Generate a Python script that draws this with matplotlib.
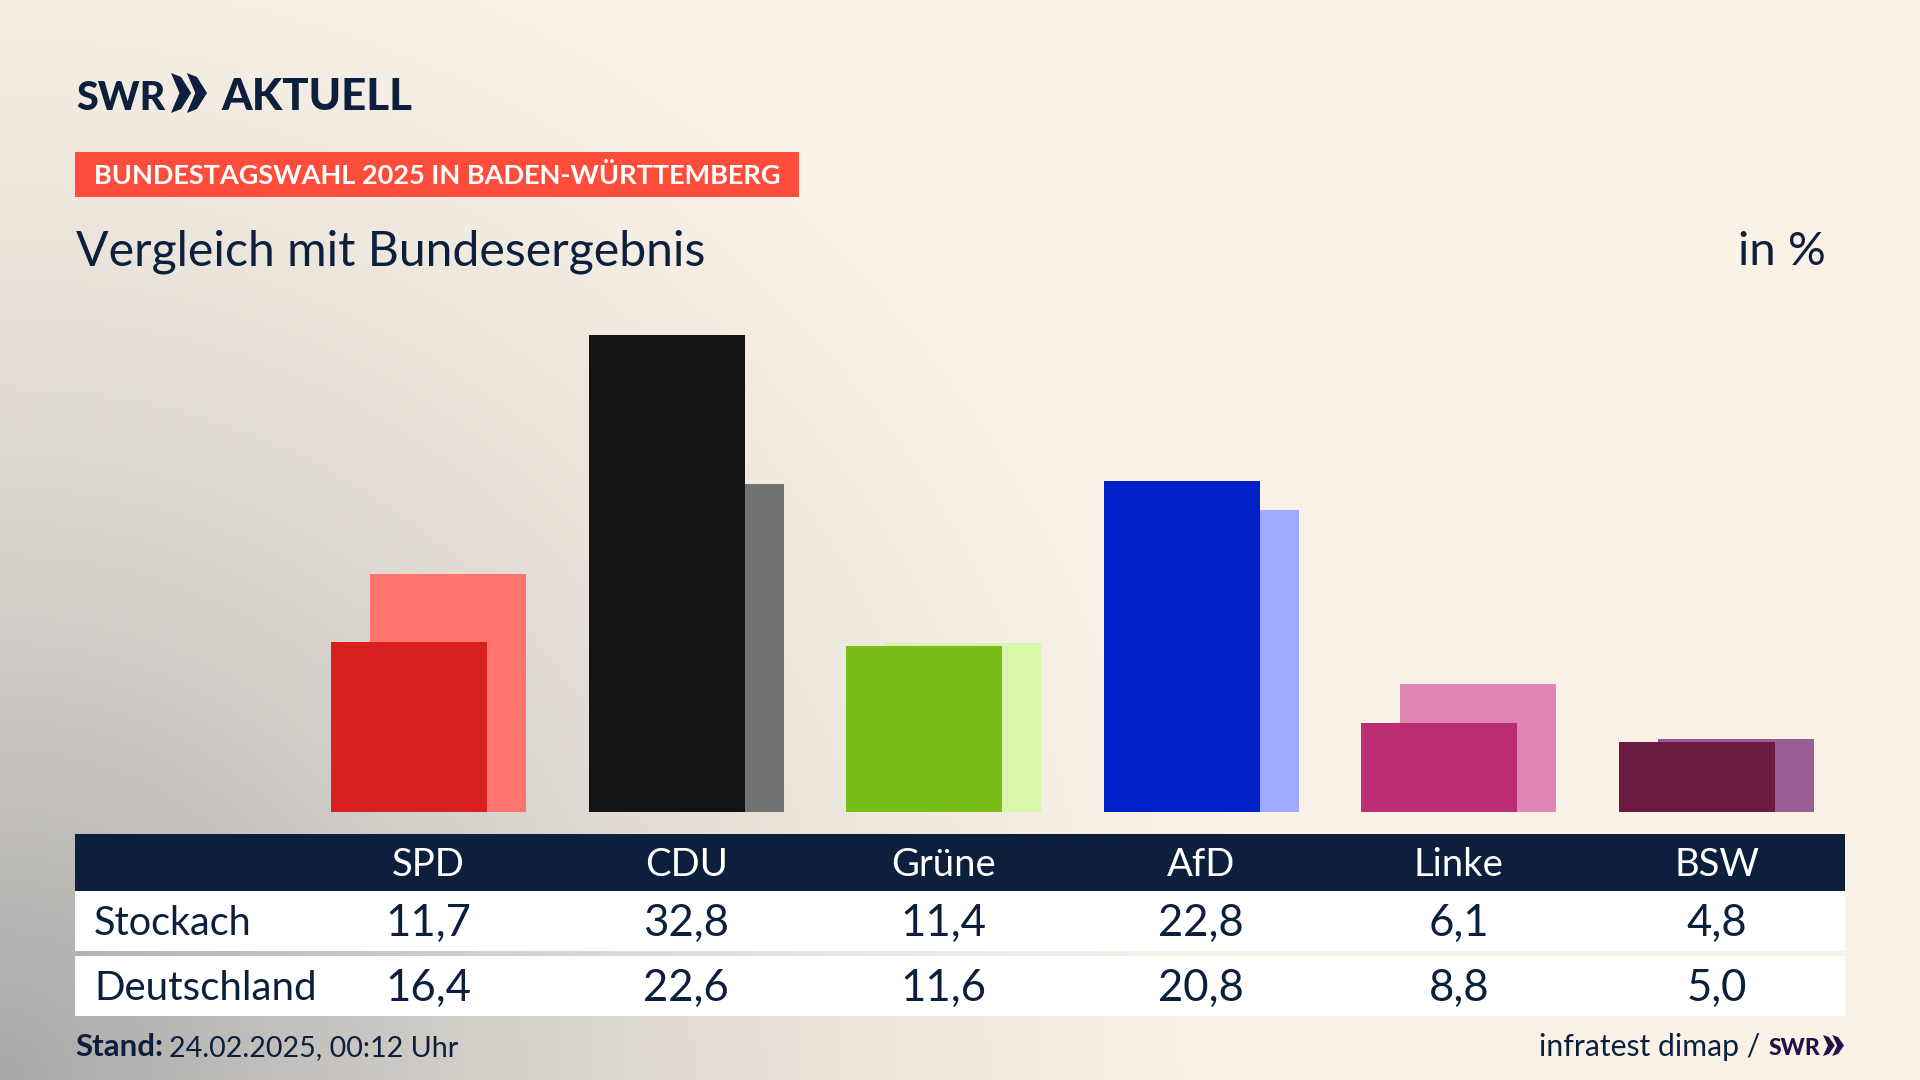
import numpy as np
import matplotlib
matplotlib.use("Agg")
import matplotlib.pyplot as plt
from matplotlib.patches import Rectangle, Polygon

parties = ["SPD", "CDU", "Grüne", "AfD", "Linke", "BSW"]
stockach = [11.7, 32.8, 11.4, 22.8, 6.1, 4.8]
deutschland = [16.4, 22.6, 11.6, 20.8, 8.8, 5.0]
dark_colors = ["#D8201E", "#131313", "#7ABC1A", "#0021C8", "#BC2E74", "#6B1A40"]
light_colors = ["#FF746C", "#737270", "#D8F7AB", "#9EABFF", "#DF87B5", "#9A5E96"]
row_names = ["Stockach", "Deutschland"]

NAVY = "#0C1F3D"
W, H = 1920, 1080
plt.rcParams["font.family"] = ["Lato", "DejaVu Sans"]
fig = plt.figure(figsize=(W / 100, H / 100), dpi=100)

# page layer in pixel coordinates
bg = fig.add_axes([0, 0, 1, 1])
bg.set_xlim(0, W); bg.set_ylim(H, 0); bg.axis("off")
yy, xx = np.mgrid[0:H:270j, 0:W:480j]
r = np.sqrt((xx / 1250) ** 2 + ((H - yy) / 1250) ** 2)
t = np.clip(1 - r, 0, 1) ** 1.5
cream = np.array([250, 242, 231]) / 255
gray = np.array([168, 168, 168]) / 255
img = cream[None, None, :] * (1 - t[..., None]) + gray[None, None, :] * t[..., None]
bg.imshow(img, extent=[0, W, H, 0], aspect="auto", zorder=0, interpolation="bilinear")
bg.set_xlim(0, W); bg.set_ylim(H, 0)

def rect(x0, y0, x1, y1, c):
    bg.add_patch(Rectangle((x0, y0), x1 - x0, y1 - y0, fc=c, ec="none", zorder=1))

def label(x, y, s, size, color=NAVY, ha="left", weight="normal"):
    return bg.text(x, y, s, fontsize=size, color=color, ha=ha, va="baseline",
                   fontweight=weight, zorder=3)

def chevrons(x0, x1, y0, y1, c):
    w = (x1 - x0) * 0.56
    step = (x1 - x0) - w
    ym = (y0 + y1) / 2
    for k in range(2):
        a = x0 + k * step
        bg.add_patch(Polygon([(a, y0), (a + w * 0.5, y0 + (y1 - y0) * 0.1), (a + w, ym),
                              (a + w * 0.5, y1 - (y1 - y0) * 0.1), (a, y1), (a + w * 0.42, ym)],
                             closed=True, fc=c, ec="none", zorder=3))

# logo
label(76, 109.5, "SWR", 28.5, weight="black")
chevrons(171, 207, 73, 113, NAVY)
label(221, 109.5, "AKTUELL", 31.5, weight="black")

# banner
rect(75, 152, 799, 197, "#FF4D3C")
label(94, 184.5, "BUNDESTAGSWAHL 2025 IN BADEN-WÜRTTEMBERG", 19.5, color="white", weight="bold")

# headings
label(76, 265, "Vergleich mit Bundesergebnis", 34.7)
label(1826, 265, "in %", 34, ha="right")

# bars on their own value axes
px_unit = 257.6
ax = fig.add_axes([75 / W, (H - 812) / H, (1845 - 75) / W, (812 - 240) / H])
ax.patch.set_alpha(0)
ax.set_xlim(-353.5 / px_unit, 1416.5 / px_unit)
ax.set_ylim(0, 572 / 14.53)
ax.axis("off")
x = np.arange(len(parties))
bw = 156 / px_unit
off = 19.5 / px_unit
ax.bar(x + off, deutschland, width=bw, color=light_colors, zorder=1)
ax.bar(x - off, stockach, width=bw, color=dark_colors, zorder=2)

# table
rect(75, 834, 1845, 891, NAVY)
rect(75, 891, 1845, 951, "white")
rect(75, 956, 1845, 1016, "white")
centers = [428.5 + i * px_unit for i in range(len(parties))]
fmt = lambda v: f"{v:.1f}".replace(".", ",")
for c, p, a, b in zip(centers, parties, stockach, deutschland):
    label(c, 876, p, 27.5, color="white", ha="center")
    label(c, 936, fmt(a), 31.5, ha="center")
    label(c, 1001, fmt(b), 31.5, ha="center")
label(94, 935, row_names[0], 28.5)
label(94, 1000, row_names[1], 29)

# footer
label(75, 1056, "Stand:", 22.5, weight="bold")
label(169, 1056, "24.02.2025, 00:12 Uhr", 20.6)
label(1760, 1056, "infratest dimap /", 21.7, ha="right")
label(1769, 1055, "SWR", 16.5, color="#26104A", weight="black")
chevrons(1823, 1844, 1035, 1056, "#26104A")

fig.savefig("out.png", dpi=100)
